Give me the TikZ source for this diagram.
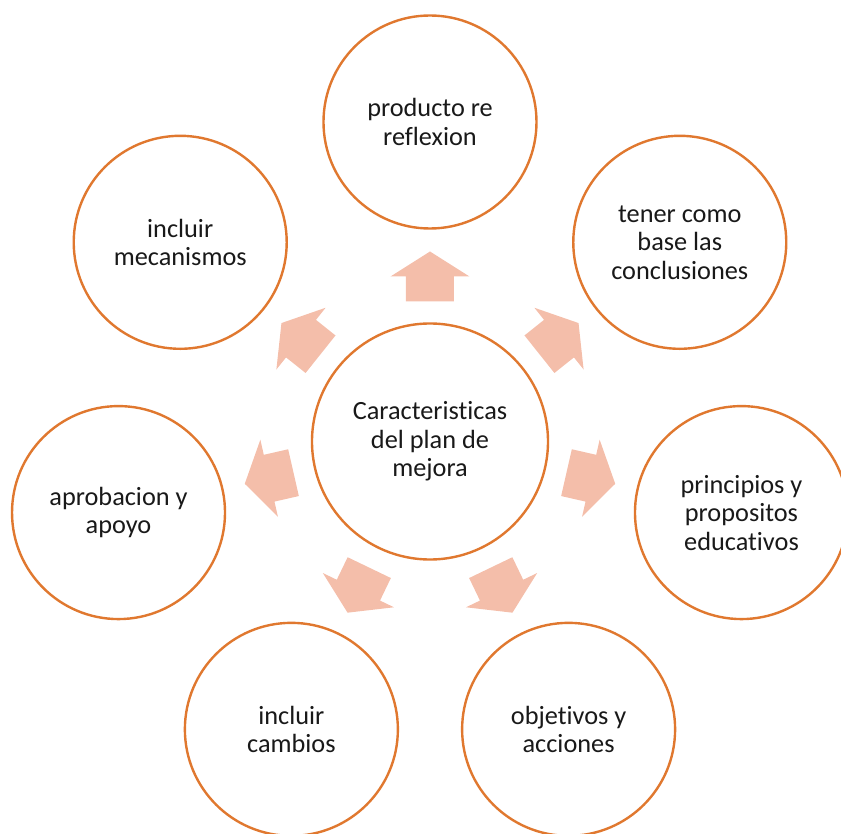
\documentclass[tikz,border=0pt]{standalone}
\usepackage{fontspec}
\setmainfont{Carlito}[Ligatures={NoCommon,NoRare}]
\definecolor{ringc}{HTML}{E0782F}
\definecolor{arrowc}{HTML}{F4BEAA}
\tikzset{
  ring/.style={circle, draw=ringc, line width=2.4pt, fill=white, inner sep=0pt, align=center,
    font=\fontsize{26.3}{28.5}\selectfont, text=black!90},
  outer/.style={ring, minimum size=213pt},
  hub/.style={ring, minimum size=236pt},
  blockarrow/.style={fill=arrowc, draw=none}
}
\begin{document}
\begin{tikzpicture}[x=1pt,y=1pt]
\useasboundingbox (-430,-391.5) rectangle (411,441.5);
\node[hub] (c) at (0,0) {Caracteristicas\\del plan de\\mejora};
\node[outer] (o1) at (90:319.5) {producto re\\reflexion};
\node[outer] (o2) at (38.571:319.5) {tener como\\base las\\conclusiones};
\node[outer] (o3) at (-12.857:319.5) {principios y\\propositos\\educativos};
\node[outer] (o4) at (-64.286:319.5) {objetivos y\\acciones};
\node[outer] (o5) at (-115.714:319.5) {incluir\\cambios};
\node[outer] (o6) at (-167.143:319.5) {aprobacion y\\apoyo};
\node[outer] (o7) at (141.429:319.5) {incluir\\mecanismos};
\foreach \a in {90,38.571,-12.857,-64.286,-115.714,-167.143,141.429}{
  \begin{scope}[shift={(\a:140)}, rotate=\a]
    \fill[blockarrow] (0,-24) -- (25,-24) -- (25,-39.5) -- (50,0) -- (25,39.5) -- (25,24) -- (0,24) -- cycle;
  \end{scope}
}
\end{tikzpicture}
\end{document}
